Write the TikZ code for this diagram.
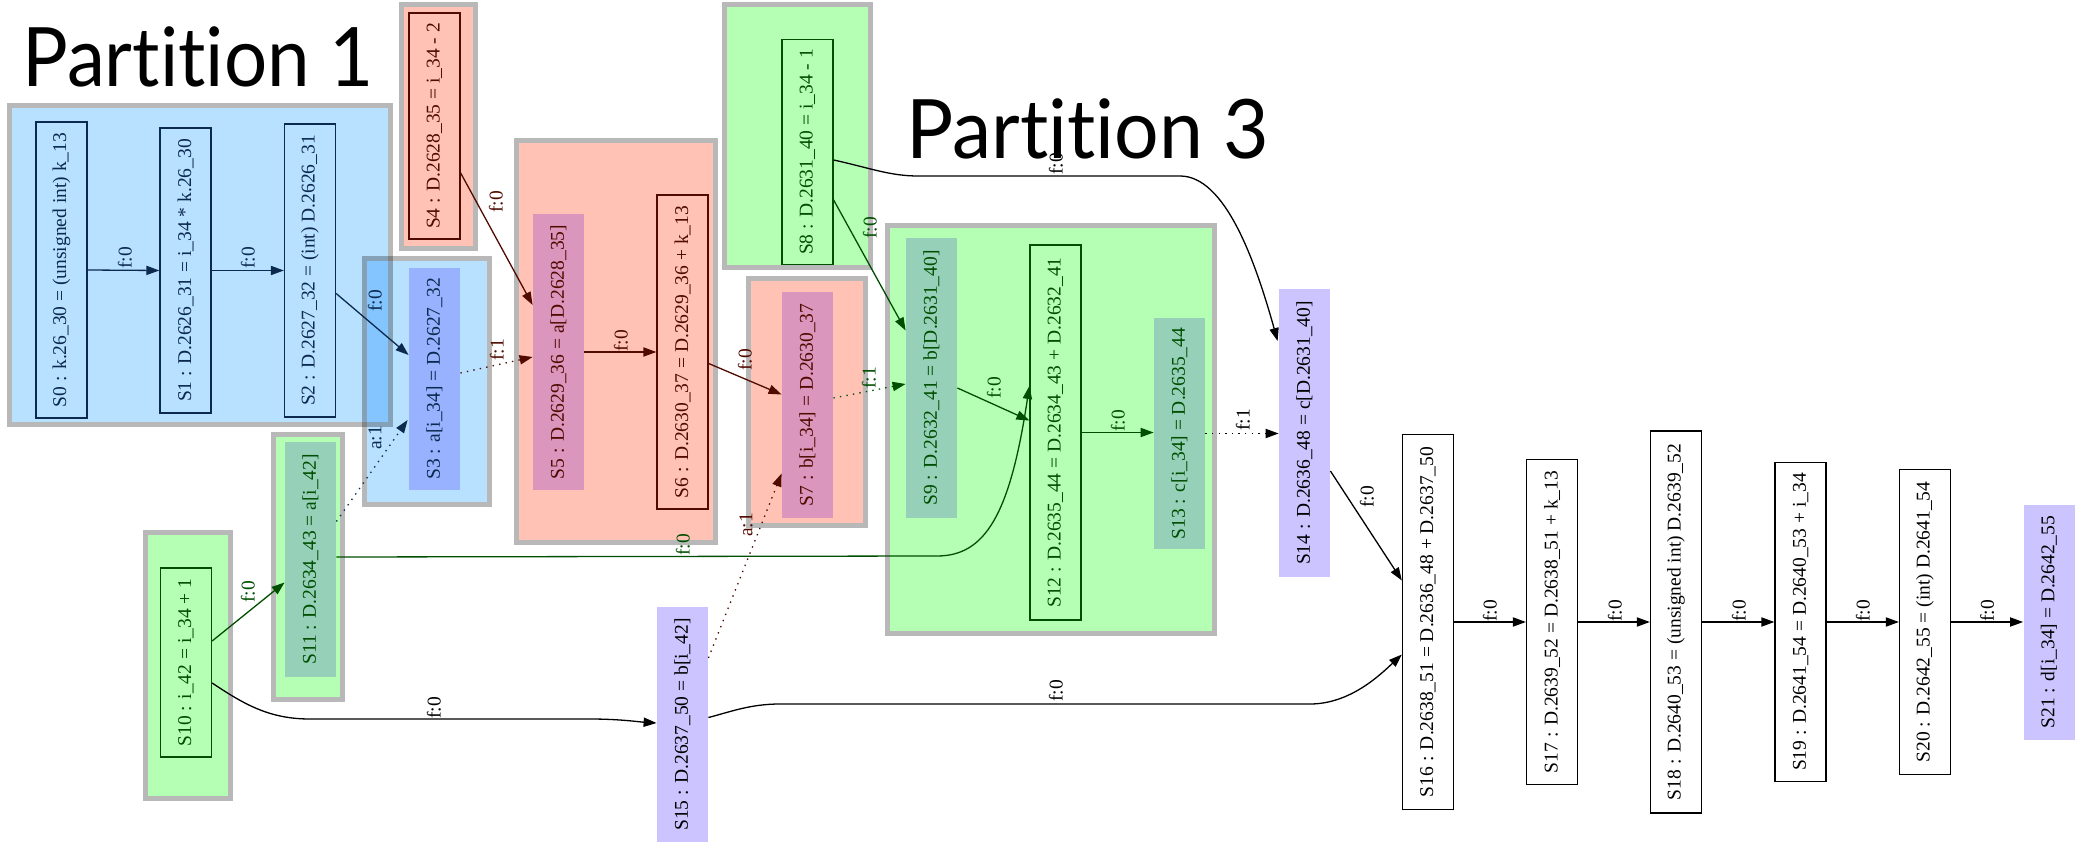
\documentclass[tikz,border=0pt]{standalone}
\usepackage{fontspec}
\setmainfont{Liberation Serif}
\newfontfamily\partfont[Ligatures={NoCommon,NoContextual}]{Lato}
\usepackage{graphicx}
\usetikzlibrary{arrows.meta,calc}

% cluster fills and borders
\definecolor{cblue}{RGB}{184,224,255}
\definecolor{csalmon}{RGB}{255,194,181}
\definecolor{cgreen}{RGB}{181,255,181}
\definecolor{cgray}{RGB}{184,184,184}
% statement fills
\definecolor{flav}{RGB}{204,196,255}
\definecolor{fblue}{RGB}{153,178,255}
\definecolor{fpink}{RGB}{218,150,188}
\definecolor{fteal}{RGB}{150,208,184}
% ink colours per partition
\definecolor{tblue}{RGB}{12,42,78}
\definecolor{tred}{RGB}{80,10,0}
\definecolor{tgreen}{RGB}{0,78,0}

\newcommand\uptext[1]{\rotatebox{90}{#1}}
\newcommand\stmtfont{\fontsize{9.75}{11}\selectfont}
\newcommand\parttext[2]{\scalebox{#1}[1]{#2}}

% cluster: x1 y1 x2 y2 fill (outer extent, 5px grey frame)
\newcommand\clusterbox[5]{%
  \fill[#5] ($(#1,#2)+(5,5)$) rectangle ($(#3,#4)+(-5,-5)$);
  \draw[cgray, line width=2.5pt] ($(#1,#2)+(2.5,2.5)$) rectangle ($(#3,#4)+(-2.5,-2.5)$);}

\tikzset{
  box/.style={draw=#1, line width=0.65pt, text=#1, inner sep=0pt,
    minimum width=25.5pt, font=\stmtfont},
  filled/.style={fill=#1, inner sep=0pt, minimum width=25.5pt, font=\stmtfont},
  ht/.style={minimum height=#1*0.5pt},
  lbl/.style={inner sep=0pt, font=\stmtfont},
  e/.style={line width=0.65pt, -{Triangle[length=6.5pt,width=4.6pt]}},
  dotted edge/.style={e, dash pattern=on 0.7pt off 2.6pt},
  partlabel/.style={anchor=base west, inner sep=0pt,
    font=\partfont\fontsize{41}{41}\selectfont},
}

\begin{document}
\begin{tikzpicture}[x=0.5pt, y=-0.5pt]
\useasboundingbox (0,0) rectangle (2077,844);

% partitions (overlaps darken)
\begin{scope}[blend mode=multiply]
  \clusterbox{7}{103}{393}{427}{cblue}
  \clusterbox{362}{256}{492}{507}{cblue}
  \clusterbox{399}{2}{478}{251}{csalmon}
  \clusterbox{514}{138}{718}{545}{csalmon}
  \clusterbox{746}{276}{868}{528}{csalmon}
  \clusterbox{722}{2}{873}{270}{cgreen}
  \clusterbox{885}{223}{1217}{636}{cgreen}
  \clusterbox{143}{530}{233}{801}{cgreen}
  \clusterbox{271}{432}{345}{702}{cgreen}
\end{scope}

\node[partlabel] (P1) at (22,87) {\parttext{0.93}{Partition 1}};
\node[partlabel] (P3) at (906,159) {\parttext{0.96}{Partition 3}};

% statements
\node[box=tblue, ht=296] (S0) at (61.5,270) {\uptext{S0 : k.26\_30 = (unsigned int) k\_13}};
\node[box=tblue, ht=285] (S1) at (185.5,270.5) {\uptext{S1 : D.2626\_31 = i\_34 * k.26\_30}};
\node[box=tblue, ht=293] (S2) at (310,270.5) {\uptext{S2 : D.2627\_32 = (int) D.2626\_31}};
\node[filled=fblue, text=tblue, ht=222] (S3) at (434.5,379) {\uptext{S3 : a[i\_34] = D.2627\_32}};
\node[box=tred, ht=226] (S4) at (434.5,126) {\uptext{S4 : D.2628\_35 = i\_34 - 2}};
\node[filled=fpink, text=tred, ht=276] (S5) at (558.5,352) {\uptext{S5 : D.2629\_36 = a[D.2628\_35]}};
\node[box=tred, ht=314] (S6) at (682.5,352) {\uptext{S6 : D.2630\_37 = D.2629\_36 + k\_13}};
\node[filled=fpink, text=tred, ht=225] (S7) at (807.5,405) {\uptext{S7 : b[i\_34] = D.2630\_37}};
\node[box=tgreen, ht=225] (S8) at (807.5,152) {\uptext{S8 : D.2631\_40 = i\_34 - 1}};
\node[filled=fteal, text=tgreen, ht=280] (S9) at (931.5,378) {\uptext{S9 : D.2632\_41 = b[D.2631\_40]}};
\node[box=tgreen, ht=189] (S10) at (186,662.5) {\uptext{S10 : i\_42 = i\_34 + 1}};
\node[filled=fteal, text=tgreen, ht=235] (S11) at (310.5,559.5) {\uptext{S11 : D.2634\_43 = a[i\_42]}};
\node[box=tgreen, ht=375] (S12) at (1055.5,432.5) {\uptext{S12 : D.2635\_44 = D.2634\_43 + D.2632\_41}};
\node[filled=fteal, text=tgreen, ht=231] (S13) at (1179.5,433.5) {\uptext{S13 : c[i\_34] = D.2635\_44}};
\node[filled=flav, ht=288] (S14) at (1304.5,433) {\uptext{S14 : D.2636\_48 = c[D.2631\_40]}};
\node[filled=flav, ht=235] (S15) at (682.5,724.5) {\uptext{S15 : D.2637\_50 = b[i\_42]}};
\node[box=black, ht=375] (S16) at (1428,622) {\uptext{S16 : D.2638\_51 = D.2636\_48 + D.2637\_50}};
\node[box=black, ht=325] (S17) at (1552,622) {\uptext{S17 : D.2639\_52 = D.2638\_51 + k\_13}};
\node[box=black, ht=382] (S18) at (1676,622) {\uptext{S18 : D.2640\_53 = (unsigned int) D.2639\_52}};
\node[box=black, ht=319] (S19) at (1800.5,622) {\uptext{S19 : D.2641\_54 = D.2640\_53 + i\_34}};
\node[box=black, ht=305] (S20) at (1925,622) {\uptext{S20 : D.2642\_55 = (int) D.2641\_54}};
\node[filled=flav, ht=235] (S21) at (2049,622) {\uptext{S21 : d[i\_34] = D.2642\_55}};

% dependences
\draw[e, tblue] (S0.east) -- (S1.west)
  node[lbl, text=tblue] at (125,258) {\uptext{f:0}};
\draw[e, tblue] (S1.east) -- (S2.west)
  node[lbl, text=tblue] at (248,258) {\uptext{f:0}};
\draw[e, tblue] ($(S2.east)+(0,23)$) -- ($(S3.west)+(0,-24)$)
  node[lbl, text=tblue] at (375,301) {\uptext{f:0}};
\draw[dotted edge, tblue] ($(S11.east)+(0,-38)$) -- ($(S3.west)+(-1,41)$)
  node[lbl, text=tblue] at (375,438) {\uptext{a:1}};

\draw[e, tred] ($(S4.east)+(0,47)$) -- ($(S5.west)+(0,-47)$)
  node[lbl] at (496,202) {\uptext{f:0}};
\draw[dotted edge, tred] ($(S3.east)+(0,-6)$) -- ($(S5.west)+(0,5)$)
  node[lbl] at (497,350) {\uptext{f:1}};
\draw[e, tred] (S5.east) -- (S6.west)
  node[lbl] at (621,341) {\uptext{f:0}};
\draw[e, tred] ($(S6.east)+(0,11.5)$) -- ($(S7.west)+(0,-10.5)$)
  node[lbl] at (745,360) {\uptext{f:0}};
\draw[dotted edge, tred] ($(S15.east)+(0,-66.5)$) -- ($(S7.west)+(0,68.5)$)
  node[lbl] at (746,525) {\uptext{a:1}};

\draw[e, tgreen] ($(S10.east)+(0,-21.5)$) -- ($(S11.west)+(0,23)$)
  node[lbl] at (248,592) {\uptext{f:0}};
\draw[e, tgreen] ($(S11.east)+(0,-2.5)$) -- (937,556)
  .. controls (985,556) and (1010,515) .. ($(S12.west)+(0,-46.5)$)
  node[lbl] at (683,545) {\uptext{f:0}};
\draw[e, tgreen] ($(S8.east)+(0,48)$) -- ($(S9.west)+(0,-47.5)$)
  node[lbl, text=tgreen] at (870,228) {\uptext{f:0}};
\draw[dotted edge, tgreen] ($(S7.east)+(0,-7)$) -- ($(S9.west)+(0,6)$)
  node[lbl] at (869,378) {\uptext{f:1}};
\draw[e, tgreen] ($(S9.east)+(0,10)$) -- ($(S12.west)+(0,-12)$)
  node[lbl, text=tgreen] at (994,388) {\uptext{f:0}};
\draw[e, tgreen] (S12.east) -- (S12.east -| S13.west)
  node[lbl, text=tgreen] at (1118,421) {\uptext{f:0}};

\draw[e] ($(S10.east)+(0,20.5)$) .. controls (245,705) and (270,719) .. (310,719)
  -- (590,719) .. controls (620,719) and (640,722) .. ($(S15.west)+(0,-1.5)$)
  node[lbl] at (434,708) {\uptext{f:0}};
\draw[e] ($(S8.east)+(0,8)$) .. controls (870,168) and (890,176) .. (918,176)
  -- (1180,176) .. controls (1225,176) and (1255,260) .. ($(S14.west)+(-1,-92)$)
  node[lbl] at (1056,164) {\uptext{f:0}};
\draw[dotted edge] (S13.east) -- (S13.east -| S14.west)
  node[lbl] at (1243,420) {\uptext{f:1}};
\draw[e] ($(S14.east)+(0,38)$) -- ($(S16.west)+(0,-41.5)$)
  node[lbl] at (1367,497) {\uptext{f:0}};
\draw[e] ($(S15.east)+(0,-7)$) .. controls (730,712) and (750,704) .. (780,704)
  -- (1310,704) .. controls (1350,704) and (1380,675) .. ($(S16.west)+(0,32.5)$)
  node[lbl] at (1056,691) {\uptext{f:0}};
\draw[e] (S16.east) -- (S17.west) node[lbl] at (1490,611) {\uptext{f:0}};
\draw[e] (S17.east) -- (S18.west) node[lbl] at (1615,611) {\uptext{f:0}};
\draw[e] (S18.east) -- (S19.west) node[lbl] at (1739,611) {\uptext{f:0}};
\draw[e] (S19.east) -- (S20.west) node[lbl] at (1863,611) {\uptext{f:0}};
\draw[e] (S20.east) -- (S21.west) node[lbl] at (1987,611) {\uptext{f:0}};
\end{tikzpicture}
\end{document}
